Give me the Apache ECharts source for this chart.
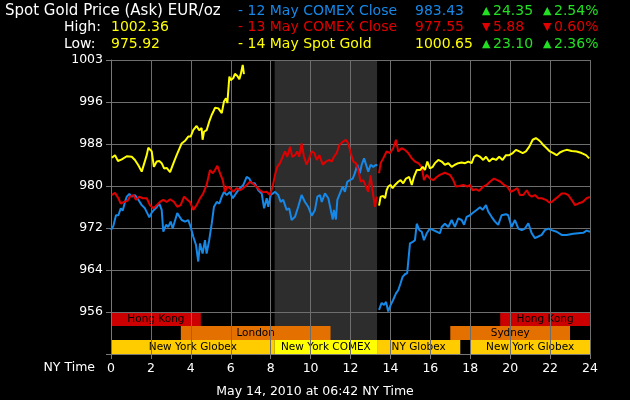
<!DOCTYPE html>
<html>
<head>
<meta charset="utf-8">
<title>Spot Gold Price (Ask) EUR/oz</title>
<script src="https://cdn.jsdelivr.net/npm/echarts@6/dist/echarts.min.js"></script>
<style>
  html, body { margin: 0; padding: 0; background: #000; }
  #chart { width: 630px; height: 400px; }
</style>
</head>
<body>
<div id="chart"></div>
<script>
// price traces, [NY hour, EUR/oz]
const comex12Early = [
  [0.0,971.3],[0.12,972.1],[0.25,974.1],[0.37,974.1],[0.49,975.4],[0.59,975.0],[0.70,976.6],[0.79,977.6],
  [0.92,978.1],[1.04,977.6],[1.20,977.9],[1.37,977.0],[1.54,976.0],[1.70,975.4],[1.79,975.6],[1.92,973.7],
  [2.04,974.6],[2.15,975.1],[2.29,975.6],[2.42,976.3],[2.54,975.1],[2.62,971.0],[2.76,972.3],[2.87,971.9],
  [2.99,972.9],[3.09,971.6],[3.21,973.1],[3.32,974.5],[3.42,974.8],[3.54,973.2],[3.71,972.9],[3.87,973.2],
  [3.99,971.9],[4.12,970.1],[4.26,968.5],[4.37,965.4],[4.46,968.8],[4.59,966.9],[4.71,969.4],[4.79,966.9],
  [4.92,969.4],[5.05,972.6],[5.16,975.7],[5.30,976.6],[5.43,976.3],[5.55,977.6],[5.66,978.5],[5.80,977.9],
  [5.96,978.5],[6.10,977.3],[6.26,978.2],[6.46,979.2],[6.63,979.8],[6.80,981.3],[6.93,981.0],[7.05,980.1],
  [7.21,980.1],[7.38,978.8],[7.55,978.2],[7.67,975.4],[7.80,977.3],[7.88,975.7],[8.00,977.9],[8.22,978.5],
  [8.38,977.9],[8.50,976.6],[8.63,977.0],[8.80,975.1],[8.93,975.4],[9.05,973.2],[9.22,973.8],[9.38,975.7],
  [9.55,977.9],[9.72,976.6],[9.88,975.7],[10.06,974.0],[10.22,975.1],[10.34,977.6],[10.47,977.9],[10.56,976.6],
  [10.72,978.2],[10.89,977.3],[11.01,975.1],[11.11,973.3],[11.17,975.1],[11.27,973.3],[11.34,977.0],[11.47,978.2],
  [11.61,979.5],[11.72,978.5],[11.84,980.4],[11.97,980.7],[12.11,981.0],[12.22,982.0],[12.34,983.6],[12.47,982.0],
  [12.56,983.6],[12.68,984.8],[12.78,984.6],[12.89,982.3],[13.01,983.6],[13.14,983.2],[13.28,983.6],[13.33,983.4]
];
const comex12Late = [
  [13.43,956.3],[13.56,957.6],[13.68,957.2],[13.78,957.8],[13.89,956.0],[14.01,957.2],[14.14,958.2],[14.28,959.4],
  [14.39,960.0],[14.51,961.3],[14.61,962.5],[14.73,963.0],[14.84,963.2],[14.98,968.8],[15.12,969.1],[15.23,969.4],
  [15.32,972.5],[15.45,971.3],[15.57,971.0],[15.68,969.4],[15.82,970.7],[15.98,971.6],[16.15,971.3],[16.32,971.0],
  [16.48,970.7],[16.57,971.9],[16.73,972.5],[16.90,971.9],[17.07,973.2],[17.23,971.9],[17.40,973.5],[17.57,973.2],
  [17.69,972.3],[17.82,973.8],[17.99,974.1],[18.15,974.6],[18.32,975.1],[18.49,975.6],[18.62,975.1],[18.79,976.0],
  [18.90,974.8],[19.07,973.8],[19.24,972.9],[19.40,972.3],[19.57,974.1],[19.79,974.3],[19.90,974.1],[20.07,971.9],
  [20.24,973.2],[20.41,971.6],[20.58,971.3],[20.74,971.6],[20.91,972.6],[21.08,970.7],[21.24,969.8],[21.41,970.1],
  [21.58,970.4],[21.74,971.3],[21.91,971.6],[22.08,971.3],[22.33,971.0],[22.58,970.4],[22.83,970.4],[23.16,970.6],
  [23.41,970.7],[23.66,970.8],[23.83,971.2],[24.0,971.0]
];
const comex13Early = [
  [0.04,977.9],[0.20,978.3],[0.37,977.3],[0.49,976.3],[0.65,976.6],[0.82,976.8],[0.95,977.6],[1.12,977.9],
  [1.25,977.0],[1.42,977.6],[1.59,977.3],[1.79,977.3],[1.95,976.0],[2.12,975.4],[2.29,976.0],[2.45,976.6],
  [2.62,977.0],[2.79,976.6],[2.96,977.1],[3.16,976.6],[3.32,975.7],[3.49,976.0],[3.66,977.6],[3.82,977.0],
  [3.96,976.6],[4.12,975.1],[4.29,976.0],[4.46,977.3],[4.62,978.2],[4.79,979.8],[4.96,982.6],[5.10,982.0],
  [5.21,982.6],[5.33,983.4],[5.46,982.0],[5.60,980.7],[5.71,978.5],[5.83,979.5],[5.96,979.2],[6.13,978.5],
  [6.30,979.2],[6.46,978.8],[6.63,979.2],[6.80,979.8],[6.96,980.4],[7.13,980.0],[7.30,979.4],[7.46,978.8],
  [7.63,978.4],[7.80,978.5],[7.97,977.9],[8.10,979.5],[8.22,981.7],[8.33,983.2],[8.47,983.9],[8.60,985.1],
  [8.72,986.1],[8.83,985.1],[8.97,987.0],[9.08,985.1],[9.22,985.4],[9.33,986.1],[9.43,985.1],[9.55,987.6],
  [9.67,985.1],[9.80,983.6],[9.93,984.8],[10.06,986.1],[10.19,985.8],[10.31,984.5],[10.44,985.4],[10.61,983.6],
  [10.77,984.2],[10.94,984.5],[11.06,984.2],[11.17,985.1],[11.31,985.8],[11.44,987.3],[11.61,987.9],[11.77,988.3],
  [11.89,987.6],[12.01,985.8],[12.14,984.2],[12.27,983.9],[12.39,982.6],[12.51,980.4],[12.64,980.7],[12.78,979.5],
  [12.89,978.5],[13.01,981.6],[13.11,978.5],[13.23,975.7],[13.31,977.6]
];
const comex13Late = [
  [13.43,982.0],[13.51,983.9],[13.64,984.8],[13.81,986.1],[13.98,985.8],[14.14,986.7],[14.28,988.3],[14.39,986.1],
  [14.56,986.7],[14.73,986.4],[14.89,985.8],[15.07,984.8],[15.23,984.2],[15.40,983.9],[15.57,983.2],[15.68,980.7],
  [15.82,981.7],[15.98,981.0],[16.15,980.7],[16.32,981.3],[16.48,981.7],[16.73,982.1],[16.98,981.7],[17.15,980.7],
  [17.28,979.5],[17.45,979.6],[17.65,979.8],[17.85,979.5],[17.99,979.8],[18.12,978.8],[18.29,979.0],[18.45,978.7],
  [18.65,979.5],[18.82,979.8],[18.99,980.4],[19.19,981.0],[19.35,980.7],[19.52,980.4],[19.69,979.8],[19.85,979.5],
  [20.03,978.5],[20.19,978.8],[20.36,979.2],[20.49,977.9],[20.66,977.9],[20.83,978.8],[20.96,977.9],[21.08,977.6],
  [21.24,977.9],[21.41,977.3],[21.58,977.3],[21.79,977.0],[21.96,976.5],[22.08,976.6],[22.24,977.1],[22.41,977.6],
  [22.58,978.2],[22.75,978.2],[22.91,977.9],[23.08,977.0],[23.25,976.0],[23.41,976.3],[23.63,976.6],[23.83,977.3],
  [24.0,977.55]
];
const spotEarly = [
  [0.04,984.9],[0.20,985.4],[0.35,984.3],[0.54,984.6],[0.79,985.2],[1.04,985.1],[1.20,984.5],[1.37,983.5],
  [1.54,982.3],[1.62,982.2],[1.79,985.4],[1.87,986.8],[2.04,986.1],[2.15,983.2],[2.29,984.2],[2.42,984.3],
  [2.54,983.9],[2.66,982.9],[2.74,982.6],[2.79,983.0],[2.96,982.2],[3.00,982.0],[3.16,984.2],[3.29,985.4],
  [3.39,985.4],[3.54,987.6],[3.71,988.1],[3.87,988.9],[3.99,988.9],[4.12,990.1],[4.29,990.9],[4.42,990.1],
  [4.54,990.5],[4.59,988.3],[4.66,989.8],[4.79,990.1],[4.92,991.7],[5.05,993.0],[5.13,993.6],[5.21,994.3],
  [5.38,994.2],[5.55,993.3],[5.66,995.5],[5.76,996.1],[5.83,995.2],[5.93,1000.2],[6.00,999.5],[6.13,999.9],
  [6.21,1000.7],[6.33,1000.3],[6.43,999.7],[6.50,1000.6],[6.60,1002.36],[6.66,1000.65]
];
const spotLate = [
  [13.43,975.92],[13.51,977.6],[13.64,977.7],[13.73,977.3],[13.81,978.8],[13.89,979.5],[14.01,979.8],[14.11,979.2],
  [14.23,979.8],[14.39,980.4],[14.51,980.7],[14.64,980.1],[14.78,981.0],[14.94,981.3],[15.07,979.8],[15.18,981.3],
  [15.32,982.6],[15.48,982.6],[15.62,983.2],[15.73,982.6],[15.85,984.2],[15.98,982.9],[16.12,983.2],[16.23,983.9],
  [16.40,984.5],[16.57,984.2],[16.73,983.6],[16.90,983.9],[17.07,983.2],[17.23,983.6],[17.40,983.9],[17.57,984.0],
  [17.74,983.9],[17.90,984.2],[18.07,983.9],[18.19,985.1],[18.32,985.4],[18.49,985.1],[18.65,984.5],[18.79,985.1],
  [18.95,984.2],[19.12,984.8],[19.29,984.5],[19.45,985.1],[19.62,984.5],[19.79,985.4],[19.95,985.4],[20.13,985.8],
  [20.29,986.4],[20.46,986.1],[20.63,985.8],[20.79,986.1],[20.96,987.0],[21.13,988.3],[21.29,988.6],[21.41,988.3],
  [21.53,987.9],[21.66,987.3],[21.83,986.7],[21.99,986.1],[22.16,985.8],[22.33,985.4],[22.49,985.9],[22.66,986.2],
  [22.83,986.4],[23.08,986.2],[23.33,986.1],[23.58,985.8],[23.80,985.4],[23.96,984.8]
];

// trading sessions (NY hours); row 0 = top strip
const sessionNames = ['Hong Kong', 'Hong Kong', 'London', 'Sydney', 'New York Globex', 'New York COMEX', 'NY Globex', 'New York Globex'];
const sessionStart = [0, 19.5, 3.5, 17, 0, 8.2, 13.33, 18];
const sessionEnd = [4.5, 24, 11, 23, 8.2, 13.33, 17.5, 24];
const sessionRow = [0, 0, 1, 1, 2, 2, 2, 2];
const comexHours = [8.2, 13.33];

// y axis: 7 equal steps, labels as printed
const yMin = 948;
const yStep = 7.9;
const yTickLabels = ['', '956', '964', '972', '980', '988', '996', '1003'];
const xTicks = [0, 24, 2];

// header
const legendNames = ['12 May COMEX Close', '13 May COMEX Close', '14 May Spot Gold'];
const legendLast = ['983.43', '977.55', '1000.65'];
const legendChange = ['24.35', '5.88', '23.10'];
const legendPct = ['2.54%', '0.60%', '2.36%'];
const legendUp = [true, false, true];
const spotHigh = '1002.36';
const spotLow = '975.92';
const stampText = 'May 14, 2010 at 06:42 NY Time';

const BLUE = '#1688e8';
const RED = '#e00000';
const YELLOW = '#ffff00';
const GREEN = '#22e022';
const seriesColors = [BLUE, RED, YELLOW];
const sessionColors = {
  'Hong Kong': '#cc0000',
  'London': '#e47000',
  'Sydney': '#e47000',
  'New York Globex': '#ffcc00',
  'NY Globex': '#ffcc00',
  'New York COMEX': '#ffff00'
};
const FONT = '"DejaVu Sans", Verdana, sans-serif';

function withBreak(a, b) {
  return a.concat([[(a[a.length - 1][0] + b[0][0]) / 2, '-']], b);
}

const headerText = [];
function txt(text, x, y, fill, size, align) {
  headerText.push({
    type: 'text', x, y, silent: true,
    style: { text, fill, font: size + 'px ' + FONT, align: align || 'left', verticalAlign: 'middle' }
  });
}
txt('Spot Gold Price (Ask) EUR/oz', 5, 11, '#fff', 15);
txt('High:', 64, 27, '#fff', 14);
txt(spotHigh, 111, 27, YELLOW, 14);
txt('Low:', 64, 44, '#fff', 14);
txt(spotLow, 111, 44, YELLOW, 14);
legendNames.forEach((name, i) => {
  const y = 11 + i * 16.5;
  const c = seriesColors[i];
  const chg = legendUp[i] ? GREEN : RED;
  const tri = legendUp[i] ? '\u25B2' : '\u25BC';
  txt('- ' + name, 238, y, c, 14);
  txt(legendLast[i], 415, y, c, 14);
  txt(tri, 482, y, chg, 11);
  txt(legendChange[i], 493, y, chg, 14);
  txt(tri, 543, y, chg, 11);
  txt(legendPct[i], 554, y, chg, 14);
});
txt('NY Time', 95, 368, '#fff', 12.5, 'right');
txt(stampText, 315, 392, '#fff', 12.5, 'center');

const chart = echarts.init(document.getElementById('chart'));
chart.setOption({
  backgroundColor: '#000',
  animation: false,
  graphic: headerText,
  grid: { left: 111, right: 40, top: 60, bottom: 46 },
  xAxis: {
    type: 'value', min: xTicks[0], max: xTicks[1], interval: xTicks[2], z: 1,
    axisLine: { lineStyle: { color: '#777' } },
    axisTick: { length: 5, lineStyle: { color: '#777' } },
    axisLabel: { color: '#fff', fontFamily: FONT, fontSize: 12.5, margin: 8 },
    splitLine: { show: true, lineStyle: { color: '#6e6e6e', width: 1 } }
  },
  yAxis: {
    type: 'value', min: yMin, max: yMin + yStep * 7, interval: yStep, z: 1,
    axisLine: { show: true, lineStyle: { color: '#777' } },
    axisTick: { show: true, length: 5, lineStyle: { color: '#777' } },
    axisLabel: {
      color: '#fff', fontFamily: FONT, fontSize: 12.5, margin: 8,
      formatter: (v) => yTickLabels[Math.round((v - yMin) / yStep)] || ''
    },
    splitLine: { show: true, lineStyle: { color: '#6e6e6e', width: 1 } }
  },
  series: [
    {
      type: 'custom', z: 0, silent: true,
      data: [comexHours],
      encode: { x: [0, 1] },
      renderItem: (params, api) => {
        const cs = params.coordSys;
        const x0 = api.coord([api.value(0), yMin])[0];
        const x1 = api.coord([api.value(1), yMin])[0];
        return { type: 'rect', shape: { x: x0, y: cs.y, width: x1 - x0, height: cs.height }, style: { fill: '#2d2d2d' } };
      }
    },
    {
      type: 'custom', z: 0, silent: true,
      data: sessionNames.map((n, i) => [sessionStart[i], sessionEnd[i], sessionRow[i]]),
      encode: { x: [0, 1] },
      renderItem: (params, api) => {
        const x0 = api.coord([api.value(0), yMin])[0];
        const x1 = api.coord([api.value(1), yMin])[0];
        const top = api.coord([0, yMin + yStep])[1];
        const bottom = api.coord([0, yMin])[1];
        const h = (bottom - top) / 3;
        const y = top + api.value(2) * h;
        const name = sessionNames[params.dataIndex];
        return {
          type: 'group',
          children: [
            { type: 'rect', shape: { x: x0, y, width: x1 - x0, height: h }, style: { fill: sessionColors[name] } },
            { type: 'text', x: (x0 + x1) / 2, y: y + h / 2 + 0.5,
              style: { text: name, fill: '#000', font: '10.5px ' + FONT, align: 'center', verticalAlign: 'middle' } }
          ]
        };
      }
    },
    {
      name: legendNames[0], type: 'line', z: 3, showSymbol: false, connectNulls: false,
      data: withBreak(comex12Early, comex12Late),
      lineStyle: { color: BLUE, width: 2 }, itemStyle: { color: BLUE }
    },
    {
      name: legendNames[1], type: 'line', z: 3, showSymbol: false, connectNulls: false,
      data: withBreak(comex13Early, comex13Late),
      lineStyle: { color: RED, width: 2 }, itemStyle: { color: RED }
    },
    {
      name: legendNames[2], type: 'line', z: 4, showSymbol: false, connectNulls: false,
      data: withBreak(spotEarly, spotLate),
      lineStyle: { color: YELLOW, width: 2 }, itemStyle: { color: YELLOW }
    }
  ]
});
</script>
</body>
</html>
